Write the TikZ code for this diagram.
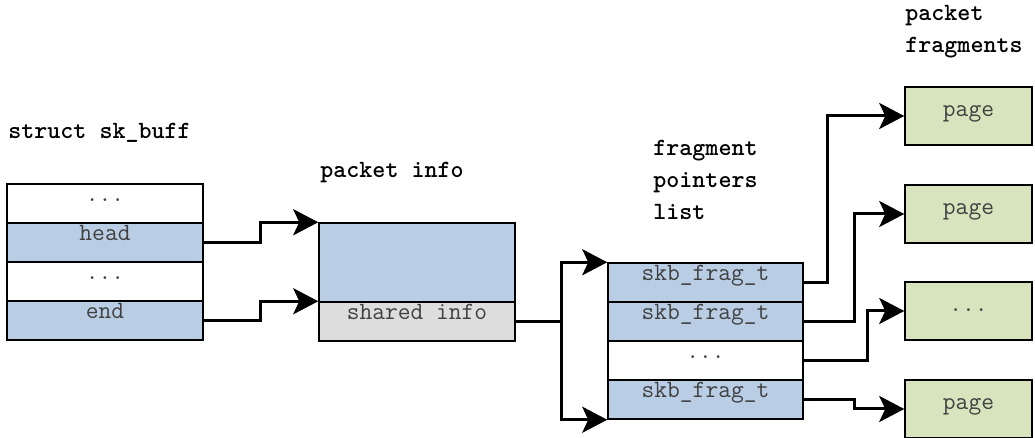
\documentclass[tikz,border=0pt]{standalone}
\usepackage{fontspec}
\usetikzlibrary{arrows.meta}
\definecolor{rowblue}{HTML}{B9CDE5}
\definecolor{sharedgray}{HTML}{DDDDDD}
\definecolor{pagegreen}{HTML}{D7E4BD}
\definecolor{celltext}{HTML}{404040}
\tikzset{
  cell/.style={draw=black, line width=.75pt, minimum width=98pt, minimum height=19.5pt, inner sep=0pt,
    text height=5pt, text depth=6.5pt, text=celltext, font=\ttfamily\fontsize{12.4}{13}\selectfont},
  pagebox/.style={cell, fill=pagegreen, minimum width=63.5pt, minimum height=29pt, text height=5pt, text depth=4pt},
  title/.style={anchor=base west, inner sep=0pt, align=left, font=\ttfamily\bfseries\fontsize{12.4}{16}\selectfont},
  link/.style={-{Stealth[length=12.5pt,width=13pt,inset=3pt]}, line width=1.5pt}
}
\begin{document}
\begin{tikzpicture}[x=.5pt, y=-.5pt]
\useasboundingbox (0,0) rectangle (1035,438);

\node[title] (tskb) at (8,139) {struct sk\_buff};
\node[title] (tinfo) at (320,178) {packet info};
\node[title] (tfrag) at (653,220) {fragment\\pointers\\list};
\node[title] (tpage) at (905,53) {packet\\fragments};

% struct sk_buff
\node[cell] (s1) at (105,203.5) {...};
\node[cell, fill=rowblue] (head) at (105,242.5) {head};
\node[cell] (s3) at (105,281.5) {...};
\node[cell, fill=rowblue] (end) at (105,320.5) {end};

% packet info
\node[cell, fill=rowblue, minimum height=39.5pt] (pinfo) at (417,262.5) {};
\node[cell, fill=sharedgray] (shared) at (417,321.5) {shared info};

% fragment pointers
\node[cell, fill=rowblue, minimum width=97.5pt] (f1) at (705.5,282.5) {skb\_frag\_t};
\node[cell, fill=rowblue, minimum width=97.5pt] (f2) at (705.5,321.5) {skb\_frag\_t};
\node[cell, minimum width=97.5pt] (f3) at (705.5,360.5) {...};
\node[cell, fill=rowblue, minimum width=97.5pt] (f4) at (705.5,399.5) {skb\_frag\_t};

% pages
\node[pagebox] (p1) at (968.5,116) {page};
\node[pagebox] (p2) at (968.5,214) {page};
\node[pagebox] (p3) at (968.5,311) {...};
\node[pagebox] (p4) at (968.5,409) {page};

\coordinate (m1) at (260,0);
\coordinate (m2) at (561,0);
\coordinate (m3) at (827,0);
\coordinate (m4) at (854,0);
\coordinate (m5) at (867,0);

\draw[link] (head.east) -- (head.east -| m1) |- (pinfo.north west);
\draw[link] (end.east) -- (end.east -| m1) |- (shared.north west);
\draw[link] (shared.east) -- (shared.east -| m2) |- (f1.north west);
\draw[link] (shared.east -| m2) |- (f4.south west);
\draw[link] (f1.east) -- (f1.east -| m3) |- (p1.west);
\draw[link] (f2.east) -- (f2.east -| m4) |- (p2.west);
\draw[link] (f3.east) -- (f3.east -| m5) |- (p3.west);
\draw[link] (f4.east) -- (f4.east -| m4) |- (p4.west);
\end{tikzpicture}
\end{document}
